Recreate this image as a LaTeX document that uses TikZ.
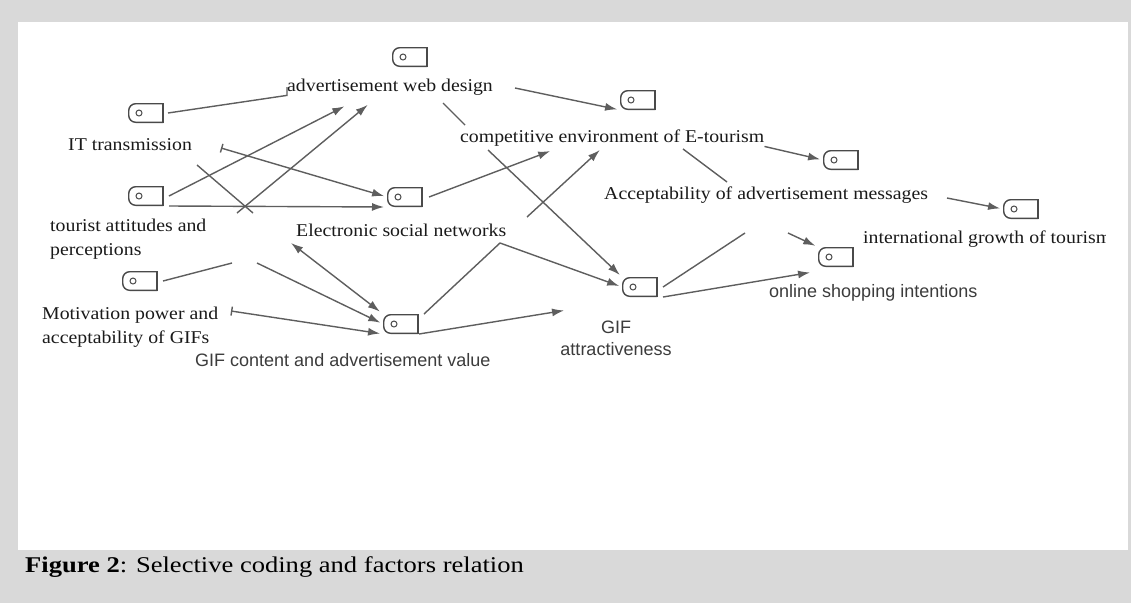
\documentclass[tikz,border=0pt]{standalone}
\usepackage{fontspec}
\setmainfont{Liberation Serif}
\newfontfamily\lblfont{Liberation Serif}[FakeStretch=1.1]
\newfontfamily\sanslbl{Liberation Sans}
\newfontfamily\capfont{Liberation Serif}[FakeStretch=1.18]
\usetikzlibrary{arrows.meta}

\definecolor{figgray}{HTML}{D9D9D9}
\definecolor{tagcol}{HTML}{4A4A4A}
\definecolor{linkcol}{HTML}{5E5E5E}
\definecolor{txtcol}{HTML}{1A1A1A}

\tikzset{
  tag/.style={rectangle, minimum width=36pt, minimum height=20pt, inner sep=0pt, outer sep=0pt, fill=white,
    path picture={
      \draw[tagcol, line width=1.4pt, rounded corners=7pt]
        ([shift={(-0.7pt,-0.7pt)}]path picture bounding box.north east) --
        ([shift={(0.7pt,-0.7pt)}]path picture bounding box.north west) --
        ([shift={(0.7pt,0.7pt)}]path picture bounding box.south west) --
        ([shift={(-0.7pt,0.7pt)}]path picture bounding box.south east);
      \draw[tagcol, line width=1.8pt, line cap=rect]
        ([shift={(-0.9pt,0.7pt)}]path picture bounding box.south east) --
        ([shift={(-0.9pt,-0.7pt)}]path picture bounding box.north east);
      \draw[tagcol, line width=1pt] ([xshift=11pt]path picture bounding box.west) circle (3pt);
    }},
  lbl/.style={font=\lblfont\fontsize{18}{23.5}\selectfont, text=txtcol, inner sep=0pt, anchor=west, align=left},
  slbl/.style={font=\sanslbl\fontsize{18}{22}\selectfont, text=txtcol!85!white, inner sep=0pt},
  link/.style={color=linkcol, line width=1.4pt},
  flow/.style={link, -{Latex[length=12pt,width=8pt]}, shorten >=3pt},
  twoway/.style={link, {Latex[length=12pt,width=8pt]}-{Latex[length=12pt,width=8pt]}, shorten >=4pt},
  tickflow/.style={link, {Bar[width=9pt]}-{Latex[length=12pt,width=8pt]}, shorten >=3pt}
}

\begin{document}
\begin{tikzpicture}[x=1pt, y=-1pt]
 % page and white panel
 \fill[figgray] (0,0) rectangle (1131,603);
 \fill[white] (18,22) rectangle (1128,550);
 \useasboundingbox (0,0) rectangle (1131,603);

 % codes
 \node[tag] (iAWD)  at (410,57)  {};
 \node[tag] (iIT)   at (146,113) {};
 \node[tag] (iTour) at (146,196) {};
 \node[tag] (iMot)  at (140,281) {};
 \node[tag] (iESN)  at (405,197) {};
 \node[tag] (iGCV)  at (401,324) {};
 \node[tag] (iComp) at (638,100) {};
 \node[tag] (iAcc)  at (841,160) {};
 \node[tag] (iGIFA) at (640,287) {};
 \node[tag] (iOnl)  at (836,257) {};
 \node[tag] (iIntl) at (1021,209) {};

 % labels
 \node[lbl] (lAWD)  at (287,87)  {advertisement web design};
 \node[lbl] (lIT)   at (68,145)  {IT transmission};
 \node[lbl] (lTour) at (50,239)  {tourist attitudes and\\perceptions};
 \node[lbl] (lMot)  at (42,327)  {Motivation power and\\acceptability of GIFs};
 \node[lbl] (lESN)  at (296,230) {Electronic social networks};
 \node[lbl] (lComp) at (460,138) {competitive environment of E-tourism};
 \node[lbl] (lAcc)  at (604,195) {Acceptability of advertisement messages};
 \begin{scope}
  \clip (855,220) rectangle (1105,262);
  \node[lbl] (lIntl) at (863,239) {international growth of tourism};
 \end{scope}
 \node[slbl, anchor=west] (lGCV) at (195,360) {GIF content and advertisement value};
 \node[slbl, align=center] (lGIFA) at (616,338) {GIF\\attractiveness};
 \node[slbl, anchor=west] (lOnl) at (769,293) {online shopping intentions};

 % free ends
 \coordinate (awdIn1)  at (347,105);
 \coordinate (awdIn2)  at (370,103);
 \coordinate (tourOut) at (237,213);
 \coordinate (itTick)  at (221,148);
 \coordinate (crossA)  at (197,165);
 \coordinate (crossB)  at (253,213);
 \coordinate (esnIn)   at (291,243);
 \coordinate (gcvFrom) at (257,263);
 \coordinate (motOut)  at (232,263);
 \coordinate (motTick) at (231,311);
 \coordinate (esnKink) at (500,243);
 \coordinate (gifaIn)  at (567,310);
 \coordinate (compOut) at (488,150);
 \coordinate (compFrom) at (527,217);
 \coordinate (compIn1) at (602,148);
 \coordinate (compIn2) at (553,150);
 \coordinate (awdOut)  at (515,88);
 \coordinate (awdA)    at (443,103);
 \coordinate (awdB)    at (465,125);
 \coordinate (compA)   at (683,149);
 \coordinate (accA)    at (727,182);
 \coordinate (accOut)  at (947,198);
 \coordinate (gifaOut) at (745,233);
 \coordinate (onlIn)   at (813,272);
 \coordinate (onlFrom) at (788,233);

 % relations
 \draw[link] ([xshift=4pt]iIT.east) -- (lAWD.south west) -- (lAWD.west);
 \draw[link] (crossA) -- (crossB);
 \draw[link] ([xshift=5pt]iMot.east) -- (motOut);
 \draw[link] (awdA) -- (awdB);
 \draw[link] (compA) -- (accA);
 \draw[link] ([xshift=5pt]iGIFA.east) -- (gifaOut);
 \path[flow]
  ([xshift=5pt]iTour.east) edge (awdIn1)
  (tourOut) edge (awdIn2)
  ([xshift=5pt]iTour.south east) edge (iESN.south west)
  (gcvFrom) edge (iGCV.west)
  (iGCV.south east) edge (gifaIn)
  (compOut) edge (iGIFA.north west)
  (compFrom) edge (compIn1)
  ([xshift=6pt]iESN.east) edge (compIn2)
  (awdOut) edge (iComp.south west)
  (lComp.south east) edge (iAcc.west)
  (accOut) edge (iIntl.west)
  ([xshift=5pt]iGIFA.south east) edge (onlIn)
  (onlFrom) edge (iOnl.north west);
 \draw[flow] ([xshift=5pt]iGCV.north east) -- (esnKink) -- (iGIFA.west);
 \draw[tickflow] (itTick) -- (iESN.west);
 \draw[tickflow] (motTick) -- (iGCV.south west);
 \draw[twoway] (esnIn) -- (iGCV.north west);

 % caption
 \node[font=\capfont\fontsize{22.5}{27}\selectfont, text=black, inner sep=0pt, anchor=west] (caption) at (25,567)
  {\textbf{Figure 2}: Selective coding and factors relation};
\end{tikzpicture}
\end{document}
